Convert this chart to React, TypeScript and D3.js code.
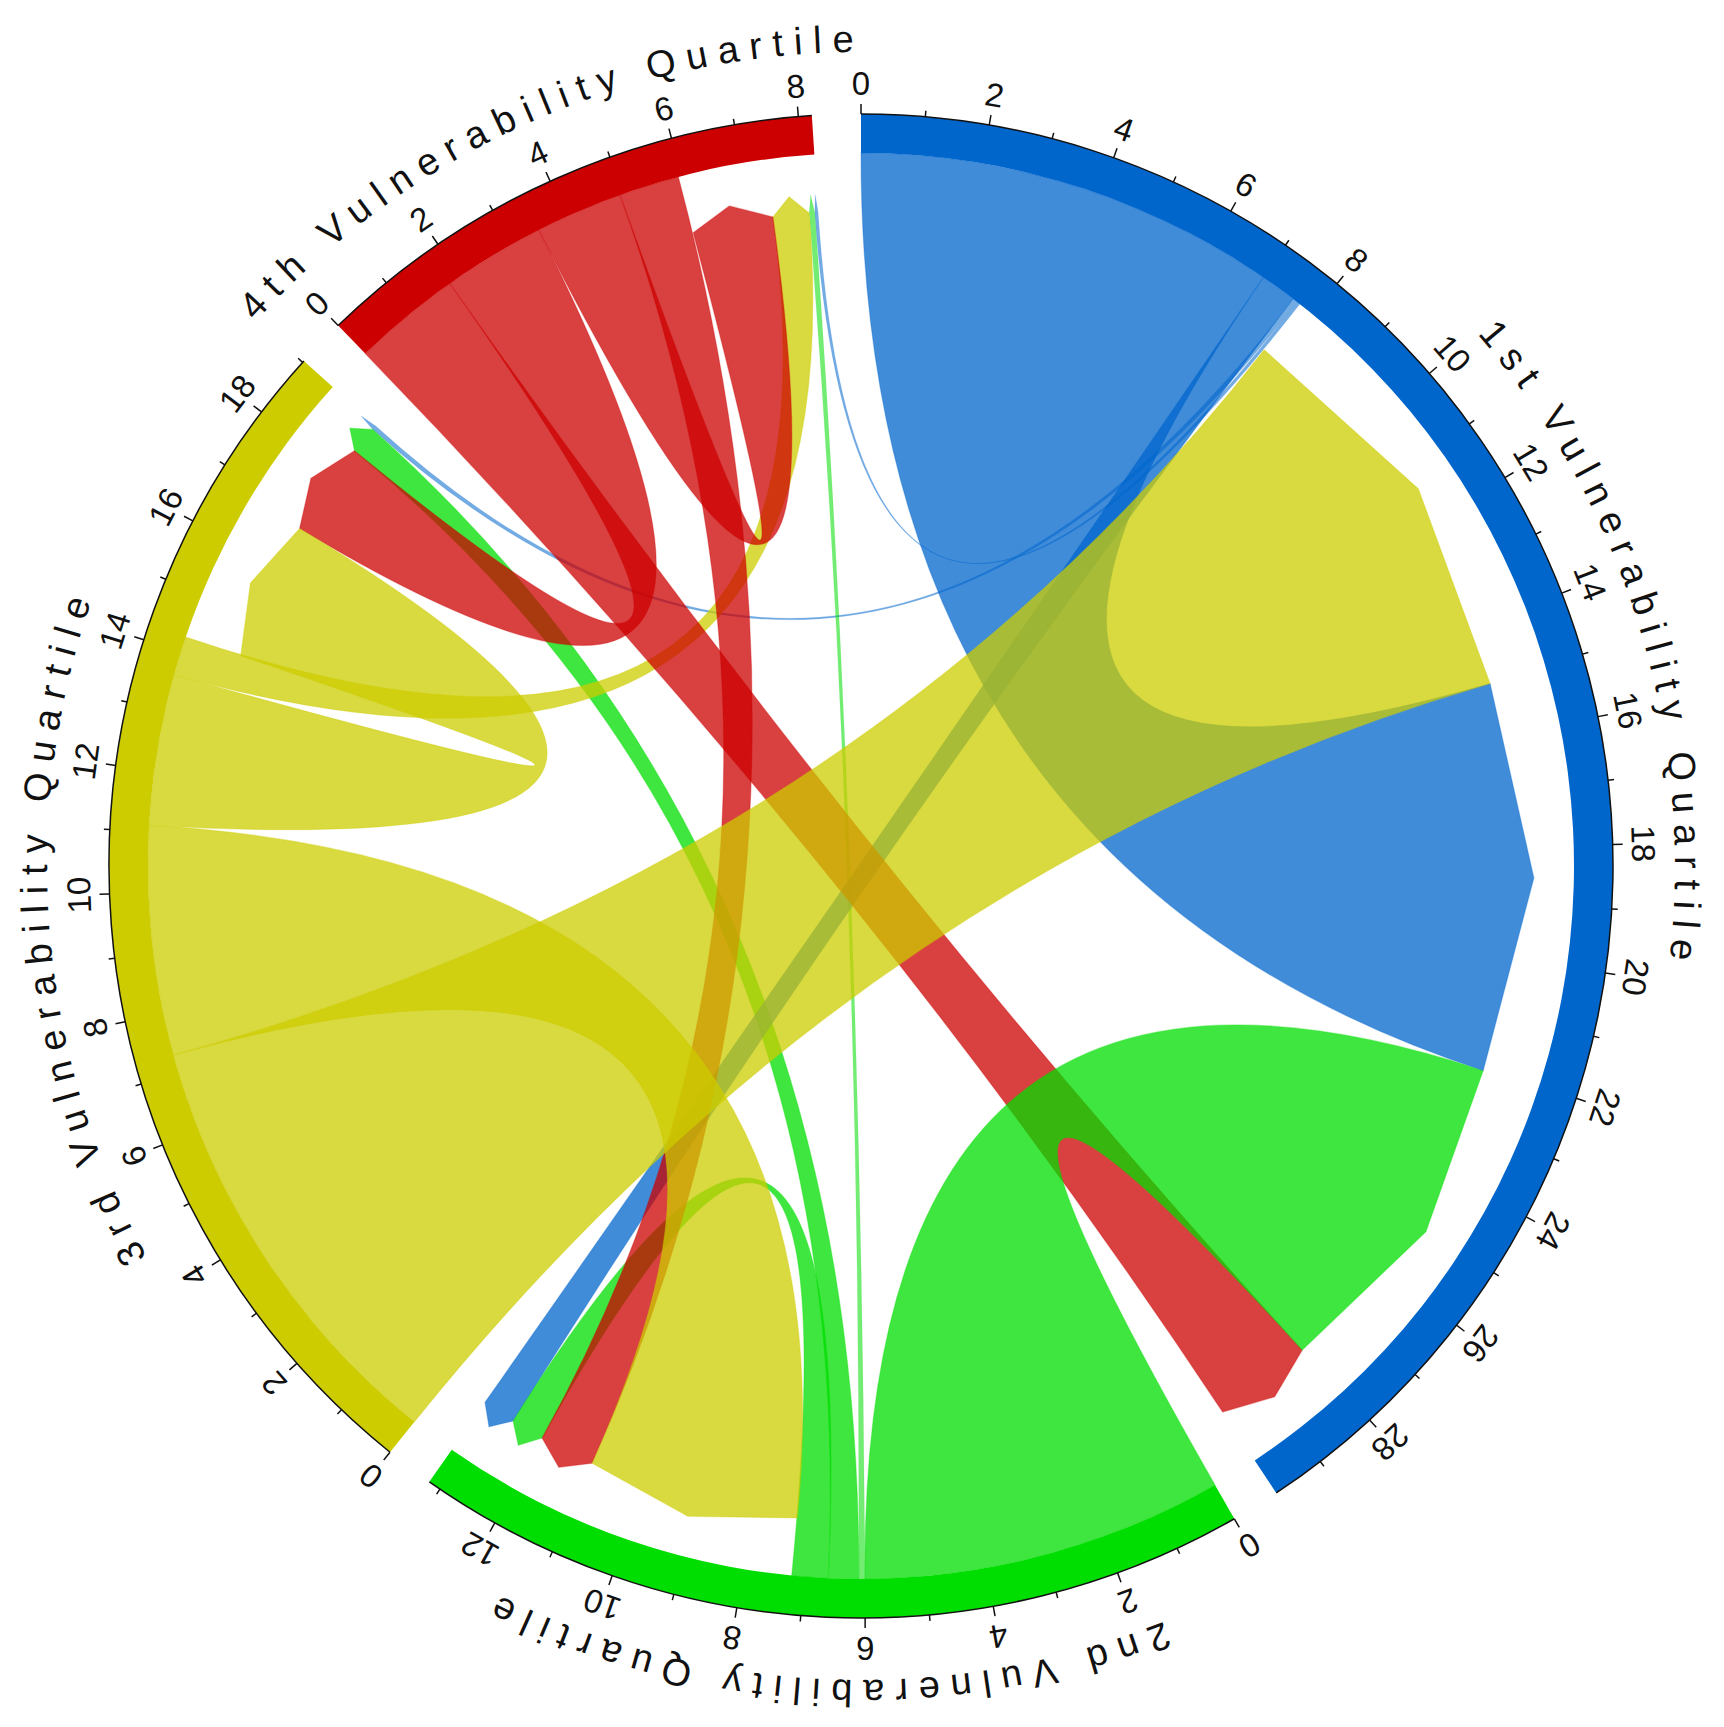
import React, { useEffect, useRef } from "react";
import * as d3 from "d3";

// sectors, clockwise from 12 o'clock
const quartiles = [
  "1st Vulnerability Quartile",
  "2nd Vulnerability Quartile",
  "3rd Vulnerability Quartile",
  "4th Vulnerability Quartile",
];

// flow from one quartile to the 1st, 2nd, 3rd and 4th quartile
const from1st = [7.0, 0.6, 0.08, 0.06];
const from2nd = [6.0, 0.6, 0.5, 0.1];
const from3rd = [7.3, 3.8, 2.5, 0.65];
const from4th = [1.8, 1.0, 1.7, 1.45];
const flows = [from1st, from2nd, from3rd, from4th];

// order of the link ends inside each sector (quartile indices)
const outgoingOrder = [[0, 1, 2, 3], [0, 3, 2, 1], [0, 1, 2, 3], [0, 2, 3, 1]];
const incomingOrder = [[2, 0, 1, 3], [2, 3, 1, 0], [2, 3, 1, 0], [3, 2, 1, 0]];

const colors = ["#0066CC", "#00DD00", "#CCCC00", "#CC0000"];

const W = 1724;
const H = 1727;

const ChordChart = () => {
  const svgRef = useRef<SVGSVGElement>(null);

  useEffect(() => {
    document.body.style.margin = "0";
    const svg = d3.select(svgRef.current);
    svg.selectAll("*").remove();

    const cx = 861;
    const cy = 866;
    const rOuter = 752;
    const rInner = 713;
    const rTarget = 655;
    const rTip = 673;
    const gap = (3.75 * Math.PI) / 180;
    const font = "'Liberation Sans', Arial, sans-serif";

    const n = quartiles.length;
    const totals = quartiles.map(
      (_, i) => d3.sum(flows[i]) + d3.sum(flows, (row) => row[i])
    );
    const unit = (2 * Math.PI - n * gap) / d3.sum(totals);

    let a = 0;
    const sectors = totals.map((t) => {
      const s = a;
      const e = s + t * unit;
      a = e + gap;
      return { start: s, end: e, total: t, scale: d3.scaleLinear().domain([0, t]).range([s, e]) };
    });

    // positions of every link end (in sector units)
    const src: number[][][] = quartiles.map(() => []);
    const tgt: number[][][] = quartiles.map(() => []);
    quartiles.forEach((_, i) => {
      let c = 0;
      outgoingOrder[i].forEach((j) => {
        src[i][j] = [c, c + flows[i][j]];
        c += flows[i][j];
      });
      incomingOrder[i].forEach((k) => {
        tgt[k][i] = [c, c + flows[k][i]];
        c += flows[k][i];
      });
    });

    const pt = (r: number, ang: number): [number, number] => [
      cx + r * Math.sin(ang),
      cy - r * Math.cos(ang),
    ];

    // links, largest on top
    const links: { i: number; j: number; v: number }[] = [];
    flows.forEach((row, i) => row.forEach((v, j) => v > 0 && links.push({ i, j, v })));
    links.sort((p, q) => d3.ascending(p.v, q.v));

    const gLinks = svg.append("g");
    links.forEach(({ i, j, v }) => {
      const s0 = sectors[i].scale(src[i][j][0]);
      const s1 = sectors[i].scale(src[i][j][1]);
      const t0 = sectors[j].scale(tgt[i][j][0]);
      const t1 = sectors[j].scale(tgt[i][j][1]);
      // source end on the track, target end lower with a big arrow
      const p = d3.path();
      p.moveTo(...pt(rInner, s0));
      p.arc(cx, cy, rInner, s0 - Math.PI / 2, s1 - Math.PI / 2);
      p.quadraticCurveTo(cx, cy, ...pt(rTarget, t0));
      p.lineTo(...pt(rTip, (t0 + t1) / 2));
      p.lineTo(...pt(rTarget, t1));
      p.quadraticCurveTo(cx, cy, ...pt(rInner, s0));
      p.closePath();
      const thin = v < 0.2;
      gLinks
        .append("path")
        .attr("d", p.toString())
        .attr("fill", colors[i])
        .attr("fill-opacity", thin ? 0.55 : 0.75)
        .attr("stroke", colors[i])
        .attr("stroke-opacity", thin ? 0.15 : 0.3)
        .attr("stroke-width", thin ? 0.6 : 1.2);
    });

    // sector tracks
    const trackArc = d3.arc<any>().innerRadius(rInner).outerRadius(rOuter);
    const gTrack = svg.append("g").attr("transform", `translate(${cx},${cy})`);
    sectors.forEach((s, i) => {
      gTrack
        .append("path")
        .attr("d", trackArc({ startAngle: s.start, endAngle: s.end }))
        .attr("fill", colors[i]);
    });

    // axes, tick labels and bent sector titles
    const gAxis = svg.append("g");
    sectors.forEach((s, i) => {
      const base = d3.path();
      base.moveTo(...pt(rOuter, s.start));
      base.arc(cx, cy, rOuter, s.start - Math.PI / 2, s.end - Math.PI / 2);
      gAxis
        .append("path")
        .attr("d", base.toString())
        .attr("fill", "none")
        .attr("stroke", "#111")
        .attr("stroke-width", 1.5);

      d3.range(0, Math.floor(s.total) + 1).forEach((v) => {
        const ang = s.scale(v);
        const major = v % 2 === 0;
        const [x1, y1] = pt(rOuter, ang);
        const [x2, y2] = pt(rOuter + (major ? 10 : 6), ang);
        gAxis
          .append("line")
          .attr("x1", x1)
          .attr("y1", y1)
          .attr("x2", x2)
          .attr("y2", y2)
          .attr("stroke", "#111")
          .attr("stroke-width", 1.5);
        if (major) {
          const [tx, ty] = pt(rOuter + 19, ang);
          gAxis
            .append("text")
            .attr("transform", `translate(${tx},${ty}) rotate(${(ang * 180) / Math.PI})`)
            .attr("text-anchor", "middle")
            .style("font-family", font)
            .style("font-size", "33px")
            .attr("fill", "#111")
            .text(v);
        }
      });

      const mid = (s.start + s.end) / 2;
      const rt = 814;
      const [ax, ay] = pt(rt, mid - 1.3);
      const [bx, by] = pt(rt, mid + 1.3);
      const id = `title-arc-${i}`;
      gAxis
        .append("path")
        .attr("id", id)
        .attr("d", `M${ax},${ay} A${rt},${rt} 0 0 1 ${bx},${by}`)
        .attr("fill", "none");
      gAxis
        .append("text")
        .style("font-family", font)
        .style("font-size", "38px")
        .style("letter-spacing", "10.5px")
        .attr("fill", "#111")
        .append("textPath")
        .attr("href", `#${id}`)
        .attr("startOffset", "50%")
        .attr("text-anchor", "middle")
        .text(quartiles[i]);
    });
  }, []);

  return (
    <div style={{ width: W, height: H }}>
      <svg ref={svgRef} width={W} height={H} style={{ display: "block", background: "#fff" }}></svg>
    </div>
  );
};

export default function App() {
  return <ChordChart />;
}
